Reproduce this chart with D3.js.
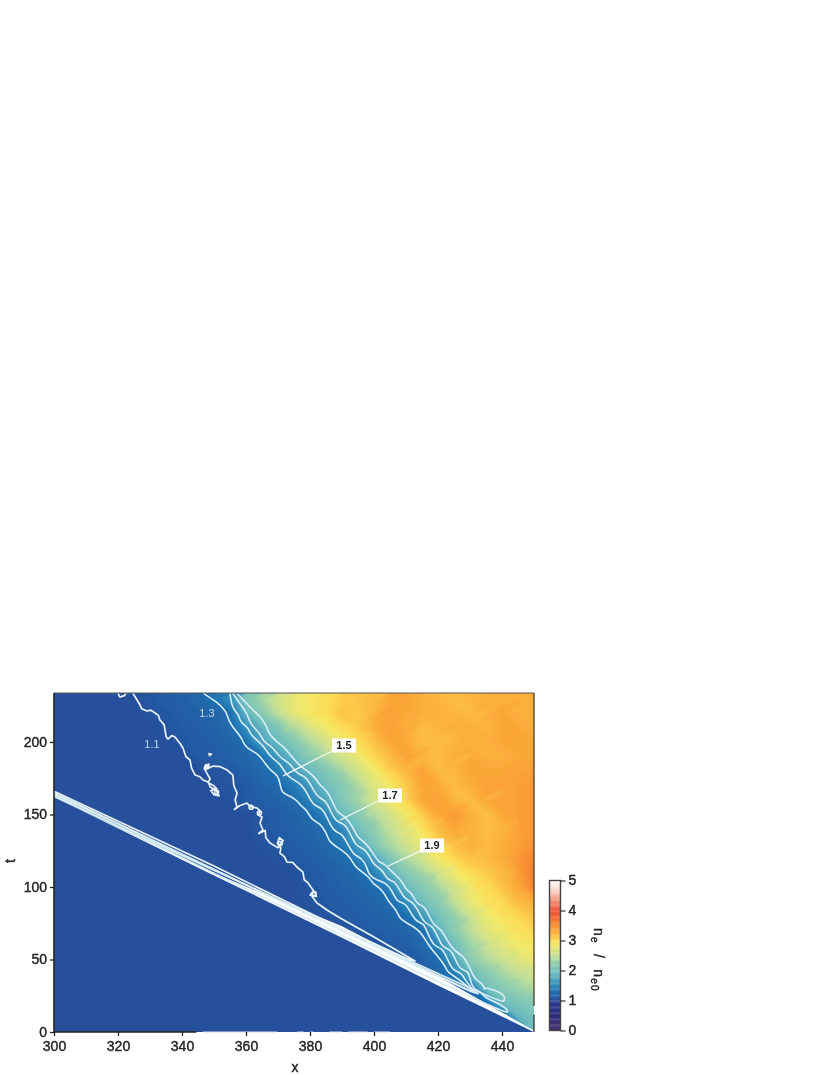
<!DOCTYPE html>
<html>
<head>
<meta charset="utf-8">
<script src="https://cdn.jsdelivr.net/npm/d3@7"></script>
<style>
  html, body { margin: 0; background: #fff; }
  text { font-family: "Liberation Sans", Arial, sans-serif; fill: #222; }
  .tick text, .cbLabel { font-size: 14px; stroke: #222; stroke-width: .4px; }
</style>
</head>
<body>
<svg id="svg1" width="830" height="1075"></svg>
<script>
var xTicks = [300, 320, 340, 360, 380, 400, 420, 440];
var tTicks = [0, 50, 100, 150, 200];
var cbTicks = [0, 1, 2, 3, 4, 5];

var colorValues = [0, 0.5, 0.95, 1, 1.3, 1.5, 1.9, 2.25, 2.5, 2.85, 3, 3.15, 3.35, 3.7, 3.95, 4.3, 4.65, 5];
var colorStops = ["#4a3570", "#2c2a7f", "#2a3a94", "#26509c", "#1f6fb0", "#2f8abc", "#6cbcc0", "#93cfae", "#c6e096", "#f2e868", "#fcdc55", "#fcc045", "#fba638", "#f4722f", "#ee5236", "#f28c70", "#fad2c4", "#ffffff"];

// n_e / n_e0, one row per t, columns are fieldX
var fieldX = [300,305,310,315,320,325,330,335,340,345,350,355,360,365,370,375,380,385,390,395,400,405,410,415,420,425,430,435,440,445,450];
var fieldT = [0,10,20,30,40,50,60,70,80,90,100,110,120,130,140,150,160,170,180,190,200,210,220,230];
var fieldRows = [
  [1,1,1,1,1,1,1,1,1,1,1,1,1,1,1,1,1,1,1,1,1,1,1,1,1,1,1,1,1,1,1.9],
  [1,1,1,1,1,1,1,1,1,1,1,1,1,1,1,1,1,1,1,1,1,1,1,1,1,1,1,1,1,1.85,2],
  [1,1,1,1,1,1,1,1,1,1,1,1,1,1,1,1,1,1,1,1,1,1,1,1,1,1,1,1.3,1.95,2.05,2.15],
  [1,1,1,1,1,1,1,1,1,1,1,1,1,1,1,1,1,1,1,1,1,1,1,1,1,1.2,1.3,1.95,2.15,2.3,2.4],
  [1,1,1,1,1,1,1,1,1,1,1,1,1,1,1,1,1,1,1,1,1,1,1,1.12,1.22,1.4,1.85,2.15,2.35,2.5,2.6],
  [1,1,1,1,1,1,1,1,1,1,1,1,1,1,1,1,1,1,1,1,1,1.04,1.1,1.18,1.28,1.7,2.2,2.4,2.55,2.7,2.8],
  [1,1,1,1,1,1,1,1,1,1,1,1,1,1,1,1,1,1,1,1,1.05,1.11,1.15,1.26,1.5,1.95,2.3,2.55,2.7,2.85,2.95],
  [1,1,1,1,1,1,1,1,1,1,1,1,1,1,1,1,1,1,1.02,1.11,1.14,1.17,1.22,1.3,1.8,2.2,2.45,2.7,2.85,2.95,3.05],
  [1,1,1,1,1,1,1,1,1,1,1,1,1,1,1,1,1,1.05,1.12,1.15,1.18,1.22,1.32,1.6,2,2.25,2.55,2.8,2.95,3.05,3.15],
  [1,1,1,1,1,1,1,1,1,1,1,1,1,1,1,1,1.05,1.12,1.15,1.18,1.22,1.3,1.55,1.95,2.2,2.5,2.75,2.95,3.05,3.2,3.3],
  [1,1,1,1,1,1,1,1,1,1,1,1,1,1,1,1,1.1,1.14,1.18,1.22,1.29,1.5,1.9,2.15,2.35,2.6,2.85,3,3.15,3.35,3.6],
  [1,1,1,1,1,1,1,1,1,1,1,1,1,1,1,1.02,1.12,1.16,1.2,1.28,1.47,1.8,2.15,2.35,2.6,2.85,3,3.1,3.2,3.4,3.65],
  [1,1,1,1,1,1,1,1,1,1,1,1,1,1,1.05,1.12,1.16,1.2,1.27,1.47,1.7,2.1,2.4,2.6,2.85,3.05,3.15,3.2,3.3,3.45,3.6],
  [1,1,1,1,1,1,1,1,1,1,1,1,1,1.05,1.12,1.15,1.19,1.26,1.4,1.7,2.1,2.4,2.6,2.8,3.05,3.2,3.3,3.2,3.3,3.4,3.5],
  [1,1,1,1,1,1,1,1,1,1,1,1,1,1.1,1.14,1.18,1.23,1.32,1.5,1.95,2.25,2.5,2.7,2.95,3.2,3.35,3.3,3.2,3.25,3.4,3.45],
  [1,1,1,1,1,1,1,1,1,1,1,1,1.03,1.11,1.14,1.2,1.3,1.47,1.9,2.15,2.4,2.6,2.85,3.1,3.35,3.45,3.3,3.15,3.35,3.4,3.45],
  [1,1,1,1,1,1,1,1,1,1,1,1.04,1.12,1.16,1.2,1.29,1.47,1.75,2.1,2.35,2.6,2.85,3.05,3.35,3.4,3.25,3.2,3.35,3.4,3.4,3.45],
  [1,1,1,1,1,1,1,1,1,1,1.02,1.06,1.13,1.2,1.28,1.42,1.65,1.95,2.15,2.4,2.65,2.9,3.1,3.35,3.35,3.2,3.3,3.4,3.4,3.4,3.45],
  [1,1,1,1,1,1,1,1,1,1.02,1.05,1.11,1.18,1.27,1.42,1.65,1.9,2.1,2.35,2.6,2.85,3.05,3.25,3.4,3.2,3.25,3.35,3.35,3.35,3.4,3.4],
  [1,1,1,1,1,1,1,1,1,1.12,1.14,1.18,1.23,1.33,1.65,1.9,2.15,2.4,2.6,2.8,3.05,3.2,3.4,3.25,3.2,3.3,3.35,3.3,3.3,3.35,3.35],
  [1,1,1,1,1,1,1,1,1.11,1.13,1.16,1.22,1.33,1.7,1.9,2.15,2.4,2.6,2.85,3,3.15,3.35,3.35,3.2,3.2,3.25,3.3,3.3,3.35,3.35,3.35],
  [1,1,1,1,1,1,1,1.08,1.12,1.15,1.2,1.28,1.55,1.85,2.1,2.4,2.65,2.85,3,3.1,3.3,3.4,3.3,3.2,3.25,3.3,3.3,3.25,3.35,3.35,3.3],
  [1,1,1,1,1,1,1.06,1.11,1.15,1.18,1.22,1.31,1.85,2.2,2.5,2.75,2.9,3,3.15,3.1,3.25,3.4,3.35,3.3,3.3,3.25,3.2,3.3,3.35,3.3,3.3],
  [1,1,1,1,1,1.02,1.11,1.14,1.17,1.25,1.36,1.55,2.1,2.35,2.6,2.8,2.9,3,3.1,3.15,3.2,3.35,3.4,3.3,3.25,3.2,3.25,3.3,3.3,3.3,3.3]
];

// short feathers in the field: start x, start t, value there
var streakX = [372,380,388,378,386,394,400,408,412,404,398,386,392,398,406,414,410,418,396,402,408,416,424,424,412,418,414,420,428,418,424,432,424,430,436,430,436,442,434,440,445,440,444,440,430,445,435,425,440,430,445,438,420,440];
var streakT = [208,212,215,190,196,200,215,205,190,182,170,172,160,150,165,170,145,155,138,128,135,140,150,128,118,122,102,108,115,88,94,100,72,80,86,56,62,70,40,48,56,30,38,200,215,175,160,185,140,125,115,105,200,222];
var streakV = [2.5,2.85,3.1,2.3,2.75,3.05,3.4,3.4,3.4,3.2,2.8,2.15,2.25,2.55,3.1,3.4,3.05,3.4,2.1,2.35,2.7,3.05,3.4,3.05,2.45,2.85,2.2,2.6,3.1,2.1,2.6,3.05,2.15,2.6,2.95,2.25,2.65,2.95,2.2,2.55,2.8,2.2,2.45,3.4,3.15,3.45,3.15,3.15,3.2,3.3,3.5,3.2,3.15,3.4];

// shock front, ambient plasma lies under shockLow
var shockX = [300, 350, 390, 420, 450];
var shockLow = [162, 108, 65, 32, 0];
var shockHigh = [162, 109.5, 73, 38.5, 1];

// contour lines as [x, t]
var contour11 = [[324.7,233.5],[326.9,225.5],[327.4,223],[329.1,221.4],[330.2,222],[331.6,220],[332.6,218.4],[333.1,215.2],[334.4,212],[334.7,208.3],[335,204],[335.6,202],[336.8,204.4],[337.8,203.4],[339.4,199],[340.3,195.9],[341.2,190],[342.5,187.6],[343,182],[344.1,177.2],[345.6,176],[346.6,173.8],[348.2,172.4],[348.8,169],[350.6,166.9],[351.6,162.8],[350,163.6],[349,166.5],[350.8,168],[349.8,170],[348.1,172],[348.8,174.5],[348.1,177.2],[346.9,182],[348.4,184.8],[347.4,181],[349.7,183.4],[352,183],[354.1,180.7],[355.9,177.2],[356.2,170],[357.2,164.8],[356.6,160],[357.2,155.2],[356.4,153.5],[358,156],[360.3,157.9],[361.4,155.4],[363.4,154.5],[364.6,152],[363.6,150],[365,148.3],[364.4,144],[365.3,139.3],[364,137],[366,139],[366.2,134],[367.5,130.3],[370,127],[371.6,132],[370.4,134],[369.8,130],[370.9,127],[370.6,123.4],[372,121],[372.8,117.2],[374.6,117],[375.9,113.8],[377.8,110.3],[378.2,105],[379.4,102.8],[381.6,95.9],[382,93.5],[380,94.5],[381,97],[380.5,94],[382.2,89],[385.3,84.1],[389.4,78.6],[400,65.5],[412.8,49],[411.3,49.7],[389.4,71.7],[350,114.5],[300,166]];
var contour13 = [[346.7,233.5],[350.8,227.8],[354,220.9],[354.6,214],[356.6,208.3],[358.7,202.8],[359.4,198],[361.3,194.5],[364,191.5],[365.9,185.5],[367.5,180.7],[370,177],[370.6,171.7],[371.2,164.6],[373.6,163],[375.8,160],[377.6,155],[379,153.1],[380.5,146.2],[383.1,144.1],[385.2,137.2],[386,131],[388.3,127.8],[392.4,121.6],[394,114],[395.6,111.7],[398.8,106.2],[399.3,102.8],[402.8,97.9],[404.4,90],[407.1,84.1],[408,78],[410.2,75.2],[414.4,70.3],[416.9,60],[420,52],[422.7,44.1],[422.7,41.6],[426.9,35.9],[431.6,26.9],[433,24.5],[300,165]];
var contour15 = [[355,233.5],[355.6,223.4],[357.8,219],[358.1,213.8],[360.8,210],[361.3,204.8],[365.4,198],[367.5,189.7],[370.8,185],[372.2,178.6],[373.8,175.2],[377.4,171],[379.1,164.8],[381,156],[383.6,155],[385.3,148.3],[387.4,138],[390,137],[391.6,130.3],[393.6,122],[396.2,120],[397.8,113.8],[398.4,108],[400.9,104.8],[403.6,103],[405.6,97.9],[407,90],[409.4,89],[410.6,86.2],[413,76],[415.6,75],[416.6,69],[418.6,59],[421.4,58],[422.8,51],[424.6,42],[427.4,41],[428.4,35.9],[431.6,26.9],[436.3,22],[300,164.2]];
var contour17 = [[355.9,233.5],[358.6,225],[360.3,220],[361.4,212],[364.4,206.2],[365.4,200],[368.4,196.6],[370.6,189],[373.8,185.5],[375.8,178],[378.4,176.5],[380,171.7],[382.2,162],[384.8,160],[386.3,153.1],[388,145],[391,143.5],[392.5,137.2],[394.4,128],[396.8,127],[398.8,120.7],[400,115],[402.8,111.7],[404,105],[406.4,104],[407.5,100],[409.6,91.5],[412,90],[413.8,84.1],[415.6,75],[418.2,73.5],[419.7,66.9],[421.4,58],[424,57],[425.3,51],[426.8,43],[429.6,42],[430,35.9],[431.2,29],[433.6,28],[434.1,24.1],[439.5,19.5],[443,13],[439,13.5],[300,163.3]];
var contour19 = [[357.2,233.5],[360.5,226],[362.2,222],[365.2,216],[366.6,209.7],[367.3,205],[369.7,200],[372,196.5],[373.8,191],[376.9,183.4],[378.6,181],[381.6,175.9],[383,170],[385.2,167],[387.2,157.9],[388.6,151],[391,149],[393.4,141.4],[394.8,134],[397.2,131],[399.7,123.4],[401.4,117],[403.4,116],[405,111.7],[407,108],[409.1,102.8],[410,98],[411.9,95.9],[413.4,88],[415.6,87],[416.9,82.1],[418.4,74],[421,71],[422.8,63.4],[425,56],[428,52.5],[430,44.1],[431.5,36],[433.8,34],[434.7,29],[434.1,30.3],[436.4,30],[441,26],[441,20],[437.8,22],[300,162.4]];
var islandA = [[348.4,190.5],[349.2,191.6],[348.2,192]];
var islandB = [[320,233.5],[320.6,231],[322,232],[322.5,233.5]];

// little rings where the 1.1 line curls up
var curlX = [347.8, 350.8, 361.6, 364.2, 370.7, 381.3];
var curlT = [183, 165.5, 155, 151, 130, 95.5];

// boxed labels with leaders: name, label [x,t], leader from, leader to
var boxNames = ["1.5", "1.7", "1.9"];
var boxAt = [[390.6,197.6], [405,163.1], [418.1,128.6]];
var leaderFrom = [[386.9,193.8], [401.3,159.3], [414.4,124.8]];
var leaderTo = [[371.6,176.6], [389.4,146.2], [404.4,114.5]];
var plainNames = ["1.1", "1.3"];
var plainAt = [[330.6,198.6], [347.8,220]];

// bits of the bottom edge that came out white
var bottomWhite = [[346.6,369.7],[376,378],[380,381],[386,390],[392,398],[400,405]];

var svg = d3.select("#svg1");

var xScale = d3.scaleLinear().domain([300, 450]).range([54, 534]);
var tScale = d3.scaleLinear().domain([0, 233.8]).range([1032, 693]);
var color = d3.scaleLinear().domain(colorValues).range(colorStops);
var cbScale = d3.scaleLinear().domain([0, 5]).range([1030.5, 880.5]);

var defs = svg.append("defs");
defs.append("clipPath").attr("id", "plotClip").append("rect")
    .attr("x", xScale(300)).attr("y", tScale(233.8))
    .attr("width", xScale(450) - xScale(300)).attr("height", tScale(0) - tScale(233.8));
defs.append("filter").attr("id", "soft").append("feGaussianBlur").attr("stdDeviation", 1.2);
defs.append("filter").attr("id", "softStreak").append("feGaussianBlur").attr("stdDeviation", 1.5);
defs.append("filter").attr("id", "softLine").append("feGaussianBlur").attr("stdDeviation", 0.5);
defs.append("filter").attr("id", "softText").append("feGaussianBlur").attr("stdDeviation", 0.3);

var plot = svg.append("g").attr("clip-path", "url(#plotClip)");

plot.append("rect")
    .attr("x", xScale(300)).attr("y", tScale(233.8))
    .attr("width", xScale(450) - xScale(300)).attr("height", tScale(0) - tScale(233.8))
    .attr("fill", color(1));

// field as stacked filled contours
var dx = fieldX[1] - fieldX[0];
var dt = fieldT[1] - fieldT[0];
var thresholds = d3.range(1.03, 4, 0.03);
var contours = d3.contours()
    .size([fieldX.length, fieldT.length])
    .thresholds(thresholds)(fieldRows.flat());

var gridPath = d3.geoPath(d3.geoTransform({
  point: function(cx, cy) {
    this.stream.point(xScale(fieldX[0] + (cx - 0.5) * dx), tScale(fieldT[0] + (cy - 0.5) * dt));
  }
}));

plot.append("g").attr("filter", "url(#soft)")
  .selectAll("path")
  .data(contours)
  .enter()
  .append("path")
    .attr("d", gridPath)
    .attr("fill", function(d) { return color(d.value); });

plot.append("g").attr("filter", "url(#softStreak)")
  .selectAll("line")
  .data(streakV)
  .enter()
  .append("line")
    .attr("x1", function(d, i) { return xScale(streakX[i]); })
    .attr("y1", function(d, i) { return tScale(streakT[i]); })
    .attr("x2", function(d, i) { return xScale(streakX[i] + 5); })
    .attr("y2", function(d, i) { return tScale(streakT[i] + 6); })
    .attr("stroke", function(d) { return color(d); })
    .attr("stroke-width", 4)
    .attr("stroke-linecap", "round")
    .attr("opacity", 0.45);

// ambient side of the shock
var lowArea = d3.area()
    .x(function(d, i) { return xScale(shockX[i]); })
    .y0(tScale(0))
    .y1(function(d) { return tScale(d); });
plot.append("path").attr("d", lowArea(shockLow)).attr("fill", color(1));

var bandArea = d3.area()
    .x(function(d, i) { return xScale(shockX[i]); })
    .y0(function(d, i) { return tScale(shockLow[i]); })
    .y1(function(d) { return tScale(d); });
plot.append("path").attr("d", bandArea(shockHigh)).attr("fill", "#fff").attr("filter", "url(#softLine)");

var line = d3.line()
    .x(function(d) { return xScale(d[0]); })
    .y(function(d) { return tScale(d[1]); });
var smoothLine = d3.line()
    .curve(d3.curveBasis)
    .x(function(d) { return xScale(d[0]); })
    .y(function(d) { return tScale(d[1]); });

var lineLayer = plot.append("g").attr("filter", "url(#softLine)");

lineLayer.selectAll(".level")
    .data([contour13, contour15, contour17, contour19])
    .enter()
    .append("path")
    .attr("class", "level")
    .attr("d", smoothLine)
    .attr("fill", "none")
    .attr("stroke", "#d8eef4")
    .attr("stroke-width", 1.6)
    .attr("stroke-linejoin", "round");

lineLayer.selectAll(".curly")
    .data([contour11, islandA, islandB])
    .enter()
    .append("path")
    .attr("class", "curly")
    .attr("d", line)
    .attr("fill", "none")
    .attr("stroke", "#eaf3f8")
    .attr("stroke-width", 1.7)
    .attr("stroke-linejoin", "round");

lineLayer.selectAll("circle")
    .data(curlT)
    .enter()
    .append("circle")
    .attr("cx", function(d, i) { return xScale(curlX[i]); })
    .attr("cy", function(d) { return tScale(d); })
    .attr("r", 2)
    .attr("fill", "none")
    .attr("stroke", "#eaf3f8")
    .attr("stroke-width", 1.6);

lineLayer.selectAll(".leader")
    .data(boxNames)
    .enter()
    .append("path")
    .attr("class", "leader")
    .attr("d", function(d, i) { return line([leaderFrom[i], leaderTo[i]]); })
    .attr("stroke", "#f4f8f0")
    .attr("stroke-width", 1.3);

// frame
var frame = svg.append("g").attr("fill", "none");
frame.append("path").attr("d", line([[300, 233.8], [450, 233.8]])).attr("stroke", "#555").attr("stroke-width", 1.2);
frame.append("path").attr("d", line([[300, 0], [300, 233.8]])).attr("stroke", "#222").attr("stroke-width", 1.6);
frame.append("path").attr("d", line([[450, 233.8], [450, 18]])).attr("stroke", "#4a3d28").attr("stroke-width", 1.3);
frame.append("path").attr("d", line([[450, 12], [450, 0]])).attr("stroke", "#333").attr("stroke-width", 1.3);
frame.append("path").attr("d", line([[300, 0], [344.5, 0]])).attr("stroke", "#222").attr("stroke-width", 1.6);
frame.selectAll(".gap")
    .data(bottomWhite)
    .enter()
    .append("path")
    .attr("class", "gap")
    .attr("d", function(d) { return line([[d[0], 0], [d[1], 0]]); })
    .attr("stroke", "#d5dcea")
    .attr("stroke-width", 1);

var xAxis = svg.append("g")
    .attr("filter", "url(#softText)")
    .attr("transform", "translate(0," + tScale(0) + ")")
    .call(d3.axisBottom(xScale).tickValues(xTicks).tickSize(4).tickPadding(5));
var tAxis = svg.append("g")
    .attr("filter", "url(#softText)")
    .attr("transform", "translate(" + xScale(300) + ",0)")
    .call(d3.axisLeft(tScale).tickValues(tTicks).tickSize(4).tickPadding(3));
svg.selectAll(".domain").remove();
svg.selectAll(".tick line").attr("stroke", "#222").attr("stroke-width", 1.3);
svg.selectAll(".tick text").attr("font-family", null).attr("fill", "#222");

svg.append("text").attr("x", 295).attr("y", 1072).attr("text-anchor", "middle").attr("class", "cbLabel").attr("filter", "url(#softText)").text("x");
svg.append("text").attr("transform", "translate(15,861) rotate(-90)").attr("text-anchor", "middle").attr("class", "cbLabel").attr("filter", "url(#softText)").text("t");

// labels on the plot
svg.selectAll(".plainLabel")
    .data(plainNames)
    .enter()
    .append("text")
    .attr("class", "plainLabel")
    .attr("x", function(d, i) { return xScale(plainAt[i][0]); })
    .attr("y", function(d, i) { return tScale(plainAt[i][1]); })
    .attr("dy", "0.35em")
    .attr("text-anchor", "middle")
    .attr("font-size", 11)
    .attr("filter", "url(#softText)")
    .style("fill", "#c3d8ea")
    .text(function(d) { return d; });

var boxes = svg.selectAll(".boxLabel")
    .data(boxNames)
    .enter()
    .append("g")
    .attr("class", "boxLabel")
    .attr("transform", function(d, i) { return "translate(" + xScale(boxAt[i][0]) + "," + tScale(boxAt[i][1]) + ")"; });
boxes.append("rect").attr("x", -12).attr("y", -7).attr("width", 24).attr("height", 14).attr("fill", "#fff");
boxes.append("text")
    .attr("dy", "0.35em")
    .attr("text-anchor", "middle")
    .attr("font-size", 11)
    .attr("font-weight", "bold")
    .attr("filter", "url(#softText)")
    .text(function(d) { return d; });

// colorbar
var cbWidth = 11;
var cbX = 549.5;
var cbSteps = d3.range(0, 5, 0.04);
svg.append("g").selectAll("rect")
    .data(cbSteps)
    .enter()
    .append("rect")
    .attr("x", cbX)
    .attr("y", function(d) { return cbScale(d + 0.04) - 0.3; })
    .attr("width", cbWidth)
    .attr("height", function(d) { return cbScale(d) - cbScale(d + 0.04) + 0.3; })
    .attr("fill", function(d) { return color(d + 0.02); });
svg.append("rect")
    .attr("x", cbX).attr("y", cbScale(5))
    .attr("width", cbWidth).attr("height", cbScale(0) - cbScale(5))
    .attr("fill", "none").attr("stroke", "#444").attr("stroke-width", 1.4);
svg.append("g")
    .attr("filter", "url(#softText)")
    .attr("transform", "translate(" + (cbX + cbWidth) + ",0)")
    .call(d3.axisRight(cbScale).tickValues(cbTicks).tickFormat(d3.format("d")).tickSize(5).tickPadding(3))
    .call(function(g) { g.select(".domain").remove(); })
    .call(function(g) {
      g.selectAll("line").attr("stroke", "#333").attr("stroke-width", 1.2);
      g.selectAll("text").attr("font-family", null).attr("fill", "#222");
    });

var cbTitle = svg.append("text")
    .attr("transform", "translate(594,928) rotate(90)")
    .attr("text-anchor", "start")
    .attr("class", "cbLabel")
    .attr("filter", "url(#softText)")
    .style("letter-spacing", "1.2px");
cbTitle.append("tspan").text("n");
cbTitle.append("tspan").attr("dy", 3).attr("font-size", 10).text("e");
cbTitle.append("tspan").attr("dy", -3).attr("xml:space", "preserve").text("  /  n");
cbTitle.append("tspan").attr("dy", 3).attr("font-size", 10).text("e0");
</script>
</body>
</html>
